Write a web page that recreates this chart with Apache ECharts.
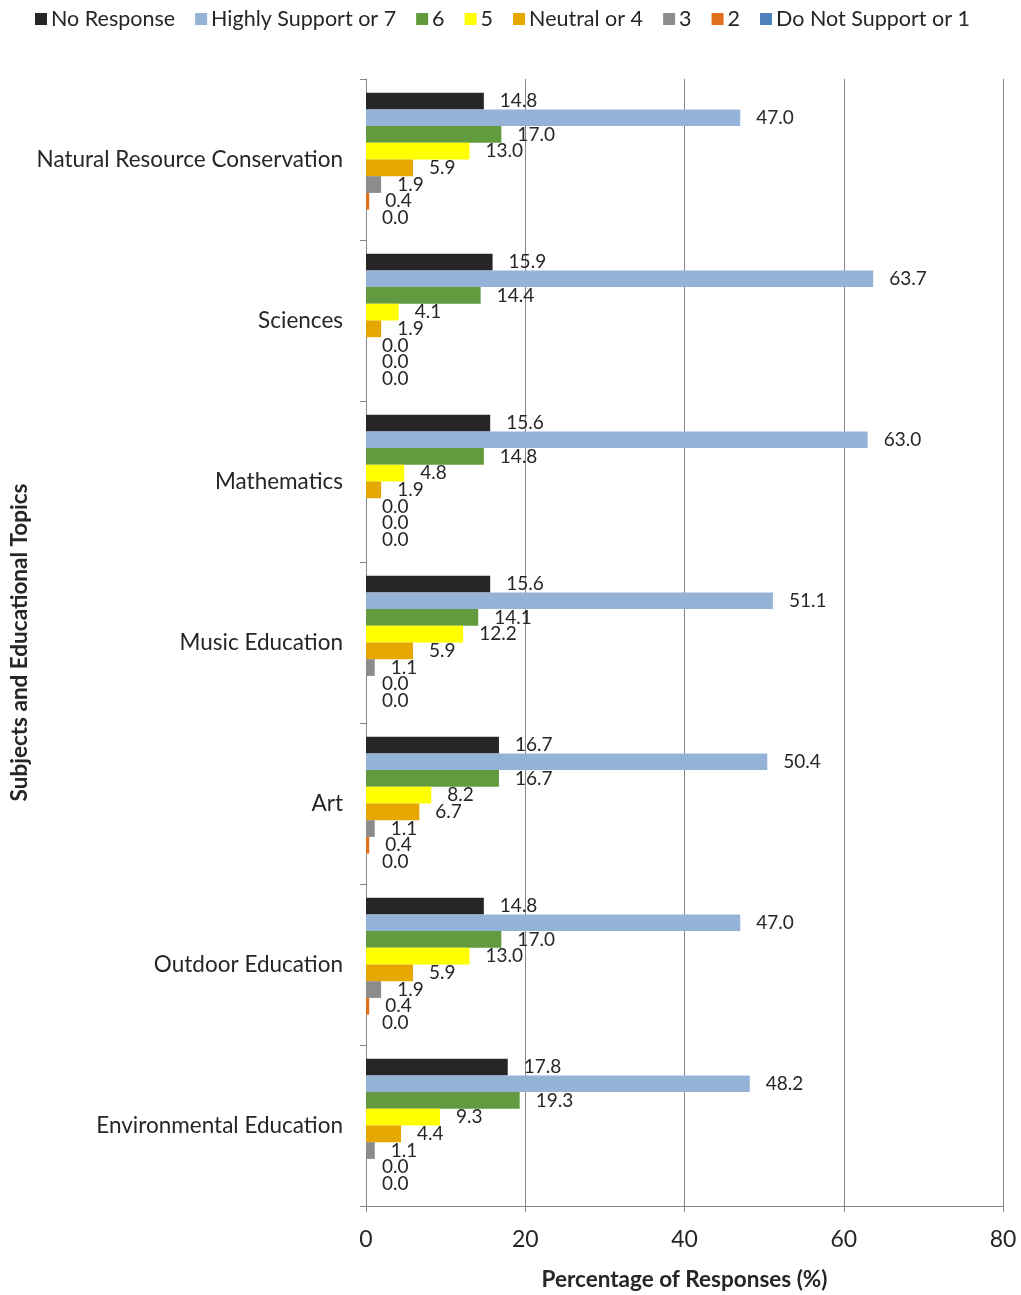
<!DOCTYPE html>
<html>
<head>
<meta charset="utf-8">
<script src="https://cdn.jsdelivr.net/npm/echarts@6/dist/echarts.min.js"></script>
<style>
html,body{margin:0;padding:0;background:#fff;}
#chart{width:1021px;height:1295px;}
</style>
</head>
<body>
<div id="chart"></div>
<script>
var categories = ["Natural Resource Conservation", "Sciences", "Mathematics", "Music Education", "Art", "Outdoor Education", "Environmental Education"];
var seriesNames = ["No Response", "Highly Support or 7", "6", "5", "Neutral or 4", "3", "2", "Do Not Support or 1"];
var noResponse   = [14.8, 15.9, 15.6, 15.6, 16.7, 14.8, 17.8];
var support7     = [47.0, 63.7, 63.0, 51.1, 50.4, 47.0, 48.2];
var support6     = [17.0, 14.4, 14.8, 14.1, 16.7, 17.0, 19.3];
var support5     = [13.0, 4.1, 4.8, 12.2, 8.2, 13.0, 9.3];
var neutral4     = [5.9, 1.9, 1.9, 5.9, 6.7, 5.9, 4.4];
var support3     = [1.9, 0.0, 0.0, 1.1, 1.1, 1.9, 1.1];
var support2     = [0.4, 0.0, 0.0, 0.0, 0.4, 0.4, 0.0];
var support1     = [0.0, 0.0, 0.0, 0.0, 0.0, 0.0, 0.0];
var xTicks = [0, 20, 40, 60, 80];

var seriesData = [noResponse, support7, support6, support5, neutral4, support3, support2, support1];
var colors = ["#262626", "#95b3d7", "#629b3f", "#ffff00", "#e6a800", "#8c8c8c", "#e0701e", "#4f81bd"];
var FONT = "Lato";

var chart = echarts.init(document.getElementById('chart'), null, {renderer: 'canvas'});
var series = seriesNames.map(function (name, i) {
  return {
    name: name,
    type: 'bar',
    data: seriesData[i],
    barGap: '0%',
    barCategoryGap: '17%',
    itemStyle: {color: colors[i]},
    label: {
      show: true,
      position: 'right',
      distance: 16,
      formatter: function (p) { return p.value.toFixed(1); },
      color: '#262626',
      fontFamily: FONT,
      fontSize: 19
    },
    animation: false
  };
});

chart.setOption({
  animation: false,
  color: colors,
  textStyle: {fontFamily: FONT},
  legend: {
    top: 3,
    left: 30,
    itemWidth: 12,
    itemHeight: 12,
    itemGap: 20,
    icon: 'rect',
    textStyle: {fontFamily: FONT, fontSize: 21.5, color: '#262626', padding: [0, 0, 0, -1]},
    data: seriesNames
  },
  grid: {left: 366, right: 18, top: 79, bottom: 89, containLabel: false, outerBoundsMode: 'none'},
  xAxis: {
    type: 'value',
    min: 0,
    max: 80,
    interval: 20,
    name: 'Percentage of Responses (%)',
    nameLocation: 'middle',
    nameGap: 62,
    nameMoveOverlap: false,
    nameTextStyle: {fontFamily: FONT, fontSize: 22.5, fontWeight: 'bold', color: '#262626'},
    axisLine: {show: true, lineStyle: {color: '#868686', width: 1}},
    axisTick: {show: true, length: 6, lineStyle: {color: '#868686'}},
    axisLabel: {
      fontFamily: FONT, fontSize: 23, color: '#262626', margin: 22,
      formatter: function (v) { return xTicks.indexOf(v) >= 0 ? String(v) : ''; }
    },
    splitLine: {show: true, lineStyle: {color: '#868686', width: 1}}
  },
  yAxis: {
    type: 'category',
    inverse: true,
    data: categories,
    name: 'Subjects and Educational Topics',
    nameLocation: 'middle',
    nameRotate: 90,
    nameGap: 335,
    nameMoveOverlap: false,
    nameTextStyle: {fontFamily: FONT, fontSize: 22.5, fontWeight: 'bold', color: '#262626'},
    axisLine: {show: true, lineStyle: {color: '#868686', width: 1}},
    axisTick: {show: true, length: 6, lineStyle: {color: '#868686'}},
    axisLabel: {fontFamily: FONT, fontSize: 22.5, color: '#262626', margin: 23}
  },
  series: series
});
</script>
</body>
</html>
